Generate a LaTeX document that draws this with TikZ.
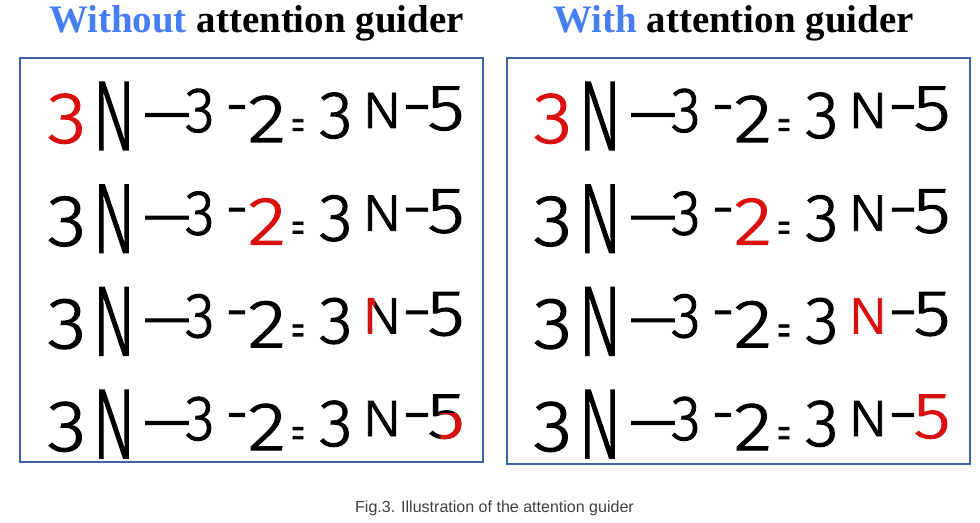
\documentclass[tikz,border=0pt]{standalone}
\usepackage{fontspec}
\usepackage{graphicx}
\usetikzlibrary{calc}
\setmainfont{Liberation Serif}
\newfontfamily\capfont{Liberation Sans}
\newfontfamily\hwfont{Fira Sans Light}[FakeBold=1.5]
\definecolor{titleblue}{RGB}{70,125,242}
\definecolor{framecol}{RGB}{62,98,168}
\definecolor{hwred}{RGB}{218,16,16}
\definecolor{capgray}{RGB}{64,64,64}

% one handwritten row: index/x/baseline/xscale/yscale/glyph
\def\hwrow{1/67/143/1.25/1.14/3, 2/114/150/1/1.55/N, 3/167/135/.95/1/—, 4/200/132/.95/1/3,
  5/237/127/.9/1/-, 6/267/142/1.25/1.07/2, 7/298/142/.45/.8/=, 8/336/138/1.08/1.05/3,
  9/382/128/.95/.8/N, 10/417/127/1.25/1/-, 11/446/130/1.2/1.02/5}

\begin{document}
\begin{tikzpicture}[x=0.025cm,y=-0.025cm,
  panel/.style={draw=framecol,line width=2.1pt},
  heading/.style={anchor=base,inner sep=0pt,font=\fontsize{27.7}{30}\selectfont\bfseries},
  glyph/.style={anchor=base,inner sep=0pt,font=\hwfont\fontsize{45.5}{50}\selectfont},
  caption/.style={anchor=base,inner sep=0pt,text=capgray,font=\capfont\fontsize{11.4}{13}\selectfont}]

%fond
\fill[white] (0,0) rectangle (980,523);
\useasboundingbox (0,0) rectangle (980,523);

%cadres
\draw[panel] (20,58) rectangle (483,462);
\draw[panel] (507,58) rectangle (970,464);

%titres
\node[heading] (t-without) at (256.5,33) {\textcolor{titleblue}{Without} attention guider};
\node[heading] (t-with) at (733.5,33) {\textcolor{titleblue}{With} attention guider};

%sans guide
\foreach \r/\hl in {0/1,1/6,2/0,3/0} {
  \foreach \i/\cx/\by/\sx/\sy/\ch in \hwrow {
    \ifnum\i=\hl\relax \def\col{hwred}\else\def\col{black}\fi
    \node[glyph,text=\col] (l\r-\i) at (\cx,\by+102.7*\r) {\scalebox{\sx}[\sy]{\ch}};
  }
}
% rouge partiel
\begin{scope}
\clip (l2-9.north west) rectangle ($(l2-9.south west)!0.33!(l2-9.south east)$);
\node[glyph,text=hwred] at (l2-9.base) {\scalebox{.95}[.8]{N}};
\end{scope}
\coordinate (fx) at ($(l3-11.south west)!0.35!(l3-11.south east)$);
\coordinate (fy) at ($(l3-11.north west)!0.42!(l3-11.south west)$);
\begin{scope}
\clip (fx |- fy) rectangle (l3-11.south east);
\node[glyph,text=hwred] at (l3-11.base) {\scalebox{1.2}[1.02]{5}};
\end{scope}

%avec guide
\foreach \r/\hl in {0/1,1/6,2/9,3/11} {
  \foreach \i/\cx/\by/\sx/\sy/\ch in \hwrow {
    \ifnum\i=\hl\relax \def\col{hwred}\else\def\col{black}\fi
    \node[glyph,text=\col] (r\r-\i) at (\cx+486,\by+102.7*\r) {\scalebox{\sx}[\sy]{\ch}};
  }
}

%legende
\node[caption] (cap) at (494.5,513) {Fig.3. Illustration of the attention guider};

\end{tikzpicture}
\end{document}
